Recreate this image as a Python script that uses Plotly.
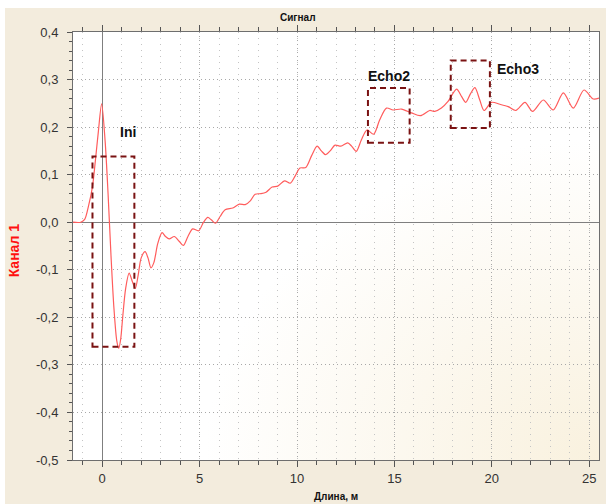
import base64
import plotly.graph_objects as go

# ---- data ----
length_m = [-1.5, -1.1, -0.9, -0.7, -0.5, -0.35, -0.2, -0.03, 0.15, 0.3, 0.45, 0.6, 0.75, 0.85,
            0.95, 1.05, 1.2, 1.38, 1.55, 1.7, 1.85, 2.0, 2.2, 2.35, 2.5, 2.65, 2.85, 3.07,
            3.25, 3.44, 3.7, 3.95, 4.16, 4.4, 4.64, 4.95, 5.2, 5.42, 5.6, 5.81, 6.05, 6.31,
            6.7, 7.04, 7.34, 7.6, 7.85, 8.15, 8.41, 8.72, 9.01, 9.36, 9.65, 9.9, 10.15,
            10.45, 10.75, 11.03, 11.25, 11.46, 11.7, 11.95, 12.25, 12.6, 12.8, 13.04, 13.3,
            13.59, 13.93, 14.24, 14.59, 14.93, 15.36, 15.87, 16.33, 16.81, 17.07, 17.41,
            17.75, 18.19, 18.45, 18.66, 18.9, 19.13, 19.38, 19.6, 19.98, 20.41, 20.84,
            21.23, 21.7, 22.09, 22.64, 23.15, 23.67, 24.18, 24.73, 25.21, 25.5]
channel1 = [0.0, 0.0, 0.006, 0.035, 0.075, 0.13, 0.19, 0.249, 0.17, 0.06, -0.07, -0.18, -0.25,
            -0.265, -0.245, -0.20, -0.14, -0.107, -0.125, -0.139, -0.11, -0.075, -0.062,
            -0.075, -0.096, -0.085, -0.045, -0.022, -0.03, -0.035, -0.030, -0.040, -0.049,
            -0.03, -0.014, -0.018, 0.0, 0.010, 0.005, -0.002, 0.012, 0.026, 0.030, 0.038,
            0.037, 0.045, 0.059, 0.060, 0.063, 0.074, 0.076, 0.087, 0.082, 0.097, 0.114,
            0.115, 0.140, 0.160, 0.150, 0.142, 0.150, 0.162, 0.160, 0.167, 0.160, 0.149,
            0.173, 0.194, 0.185, 0.215, 0.240, 0.236, 0.238, 0.230, 0.224, 0.235, 0.233,
            0.240, 0.254, 0.280, 0.264, 0.252, 0.270, 0.283, 0.257, 0.235, 0.252, 0.248,
            0.243, 0.235, 0.252, 0.233, 0.257, 0.236, 0.272, 0.240, 0.278, 0.259, 0.261]

x_tick_vals = [0, 5, 10, 15, 20, 25]
x_tick_text = ["0", "5", "10", "15", "20", "25"]
y_tick_vals = [0.4, 0.3, 0.2, 0.1, 0.0, -0.1, -0.2, -0.3, -0.4, -0.5]
y_tick_text = ["0,4", "0,3", "0,2", "0,1", "0,0", "-0,1", "-0,2", "-0,3", "-0,4", "-0,5"]

# marked regions: (label, x0, x1, y0, y1)
regions = [("Ini", -0.5, 1.65, -0.262, 0.138),
           ("Echo2", 13.64, 15.78, 0.167, 0.282),
           ("Echo3", 17.89, 19.9, 0.198, 0.340)]
region_labels = [("Ini", 0.8, 0.19), ("Echo2", 13.55, 0.308), ("Echo3", 20.15, 0.322)]

X_RANGE = [-1.5, 25.5]
Y_RANGE = [-0.5, 0.4]

# ---- figure ----
fig = go.Figure()
fig.add_trace(go.Scatter(x=length_m, y=channel1, mode="lines",
                         line=dict(color="#FF5C5C", width=1.2, shape="spline", smoothing=0.8),
                         showlegend=False, hoverinfo="skip"))

for name, x0, x1, y0, y1 in regions:
    fig.add_shape(type="rect", xref="x", yref="y", x0=x0, x1=x1, y0=y0, y1=y1,
                  line=dict(color="#7A1212", width=2, dash="6px,4px"), layer="above")

for text, x, y in region_labels:
    fig.add_annotation(x=x, y=y, xref="x", yref="y", text="<b>" + text + "</b>",
                       showarrow=False, xanchor="left", yanchor="middle",
                       font=dict(family="Arial, Liberation Sans", size=14, color="#111"))

# gradient background of the plot area
svg = ('<svg xmlns="http://www.w3.org/2000/svg" width="526" height="428" '
       'preserveAspectRatio="none" viewBox="0 0 526 428">'
       '<defs><radialGradient id="g" cx="1" cy="1" r="0.75" fx="1" fy="1">'
       '<stop offset="0" stop-color="#F9F1DE"/><stop offset="1" stop-color="#FFFFFF"/>'
       '</radialGradient></defs><rect width="526" height="428" fill="url(#g)"/></svg>')
src = "data:image/svg+xml;base64," + base64.b64encode(svg.encode()).decode()
fig.add_layout_image(source=src, xref="paper", yref="paper", x=0, y=1, sizex=1, sizey=1,
                     xanchor="left", yanchor="top", sizing="stretch", layer="below")

# white frame strip at top/left of the screenshot
fig.add_shape(type="rect", xref="paper", yref="paper", x0=-0.2, x1=1.2, y0=1.056, y1=1.2,
              fillcolor="white", line=dict(width=0), layer="above")
fig.add_shape(type="rect", xref="paper", yref="paper", x0=-0.2, x1=-0.1293, y0=-0.2, y1=1.2,
              fillcolor="white", line=dict(width=0), layer="above")

tick_font = dict(family="Arial, Liberation Sans", size=13, color="#333")
fig.update_xaxes(range=X_RANGE, tickvals=x_tick_vals, ticktext=x_tick_text,
                 showgrid=True, gridcolor="#A8A8A8", griddash="1px,3px", gridwidth=1,
                 zeroline=True, zerolinecolor="#7F7F7F", zerolinewidth=1,
                 showline=True, linecolor="#6E6E6E", linewidth=1, mirror="ticks",
                 ticks="outside", ticklen=6, tickcolor="#555", tickfont=tick_font,
                 minor=dict(dtick=1, tick0=0, ticks="outside", ticklen=4, tickcolor="#555",
                            showgrid=True, gridcolor="#C4C4C4", griddash="1px,5px", gridwidth=1),
                 fixedrange=True)
fig.update_yaxes(range=Y_RANGE, tickvals=y_tick_vals, ticktext=y_tick_text,
                 showgrid=True, gridcolor="#A8A8A8", griddash="1px,3px", gridwidth=1,
                 zeroline=True, zerolinecolor="#7F7F7F", zerolinewidth=1,
                 showline=True, linecolor="#6E6E6E", linewidth=1, mirror=True,
                 ticks="outside", ticklen=5, tickcolor="#555", tickfont=tick_font,
                 ticklabelstandoff=6,
                 minor=dict(dtick=0.02, tick0=0, ticks="outside", ticklen=3, tickcolor="#555",
                            showgrid=False),
                 fixedrange=True)

fig.add_annotation(text="<b>Сигнал</b>", xref="paper", yref="paper", x=0.428, y=1.033,
                   showarrow=False, xanchor="center", yanchor="middle",
                   font=dict(family="Arial, Liberation Sans", size=10, color="#111"))
fig.add_annotation(text="<b>Длина, м</b>", xref="paper", yref="paper", x=0.5, y=-0.0864,
                   showarrow=False, xanchor="center", yanchor="middle",
                   font=dict(family="Arial, Liberation Sans", size=10, color="#111"))
fig.add_annotation(text="<b>Канал 1</b>", xref="paper", yref="paper", x=-0.112, y=0.49,
                   showarrow=False, xanchor="center", yanchor="middle", textangle=-90,
                   font=dict(family="Arial, Liberation Sans", size=14, color="#FF1010"))

fig.update_layout(width=606, height=504, autosize=False,
                  margin=dict(l=73, r=7, t=32, b=44, pad=0),
                  paper_bgcolor="#F3ECDD", plot_bgcolor="#FFFFFF",
                  showlegend=False)

fig.write_html("out.html", config={"displayModeBar": False})
